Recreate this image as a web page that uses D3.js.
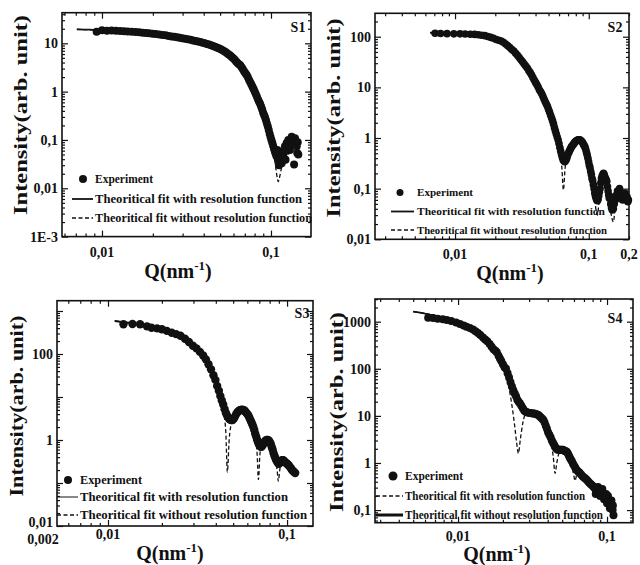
<!DOCTYPE html>
<html>
<head>
<meta charset="utf-8">
<script src="https://cdn.jsdelivr.net/npm/d3@7"></script>
<style>
body { margin: 0; background: #fff; }
svg text { font-family: "Liberation Serif", "Times New Roman", serif; fill: #111; }
</style>
</head>
<body>
<svg id="fig" width="640" height="565"></svg>
<script>
// ---- data: [Q (nm^-1), intensity (arb. unit)] ----

// S1
const s1Exp = [[0.0093,17.4],[0.0100,18.6],[0.0107,18.2],[0.0114,18.4],[0.0121,18.1],[0.0128,17.9],[0.0135,17.8],[0.0142,17.6],
  [0.0150,17.4],[0.0158,17.1],[0.0166,16.9],[0.0174,16.6],[0.0182,16.4],[0.0190,16.1],[0.0199,15.8],[0.0208,15.5],[0.0218,15.2],
  [0.0228,14.9],[0.0238,14.6],[0.0248,14.2],[0.0258,13.9],[0.0268,13.6],[0.0278,13.3],[0.0288,13.0],[0.0298,12.7],[0.0310,12.4],
  [0.0322,12.1],[0.0334,11.8],[0.0346,11.5],[0.0358,11.2],[0.0370,10.9],[0.0382,10.6],[0.0394,10.3],[0.0406,10.0],[0.0418,9.7],
  [0.0430,9.4],[0.0442,9.1],[0.0454,8.8],[0.0466,8.5],[0.0478,8.2],[0.0490,7.9],[0.0502,7.6],[0.0514,7.3],[0.0526,6.9],
  [0.0538,6.6],[0.0550,6.2],[0.0562,5.9],[0.0574,5.6],[0.0586,5.2],[0.0598,4.9],[0.0610,4.55],[0.0622,4.2],[0.0634,3.9],
  [0.0646,3.7],[0.0658,3.5],[0.0670,3.2],[0.0682,2.9],[0.0694,2.6],[0.0706,2.4],[0.0718,2.2],[0.0730,1.98],[0.0742,1.75],
  [0.0754,1.57],[0.0766,1.4],[0.0778,1.25],[0.0790,1.12],[0.0802,0.99],[0.0814,0.88],[0.0826,0.78],[0.0838,0.69],[0.0850,0.62],
  [0.0862,0.56],[0.0874,0.49],[0.0886,0.43],[0.0898,0.37],[0.0910,0.33],[0.0922,0.295],[0.0934,0.255],[0.0946,0.22],[0.0958,0.19],
  [0.0970,0.16],[0.0982,0.135],[0.0994,0.115],[0.1006,0.10],[0.1018,0.088],[0.1030,0.076],[0.1042,0.066],[0.1054,0.058],
  [0.1066,0.052],[0.1078,0.046],[0.1090,0.062],[0.1100,0.040],[0.1105,0.045],[0.1115,0.030],[0.1130,0.058],[0.1140,0.036],
  [0.1157,0.033],[0.1170,0.047],[0.1182,0.054],[0.1195,0.042],[0.1210,0.074],[0.1220,0.039],[0.1238,0.087],[0.1250,0.060],
  [0.1266,0.100],[0.1280,0.070],[0.1295,0.062],[0.1310,0.095],[0.1326,0.117],[0.1340,0.080],[0.1355,0.087],[0.1370,0.031],
  [0.1387,0.108],[0.1400,0.095],[0.1420,0.074],[0.1430,0.054],[0.1440,0.090],[0.1451,0.050]]
const s1FitRes = [[0.0071,19.5],[0.0085,19.2],[0.010,18.6],[0.013,18.0],[0.016,17.0],[0.020,15.9],[0.025,14.3],[0.030,12.7],
  [0.035,11.3],[0.040,10.1],[0.045,9.0],[0.050,7.6],[0.055,6.2],[0.060,4.9],[0.065,3.6],[0.070,2.5],[0.075,1.6],[0.080,1.02],
  [0.085,0.63],[0.090,0.37],[0.095,0.2],[0.100,0.105],[0.105,0.06],[0.110,0.042],[0.115,0.04],[0.120,0.05],[0.125,0.065],
  [0.130,0.078],[0.135,0.085],[0.140,0.082],[0.145,0.075]]
const s1FitNoRes = [[0.0071,19.5],[0.010,18.6],[0.020,15.9],[0.030,12.7],[0.040,10.1],[0.050,7.6],[0.060,4.9],[0.070,2.5],
  [0.080,1.02],[0.090,0.36],[0.100,0.10],[0.104,0.05],[0.107,0.025],[0.109,0.016],[0.1105,0.0137],[0.112,0.016],[0.115,0.025],
  [0.120,0.045],[0.125,0.065],[0.130,0.08],[0.135,0.088],[0.140,0.085],[0.145,0.078]]

// S2
const s2Exp = [[0.00709,117],[0.0078,116],[0.00871,115],[0.0098,114],[0.0109,114],[0.0119,113],[0.0130,112],[0.0140,111],
  [0.0149,109],[0.0158,107],[0.0167,105],[0.0176,101],[0.0185,97],[0.0194,93],[0.0203,88],[0.0212,85],[0.0221,82],[0.0230,78],
  [0.0239,72],[0.0248,66],[0.0257,61],[0.0266,56],[0.0275,52],[0.0284,47],[0.0293,43],[0.0302,39],[0.0311,35],[0.0320,32],
  [0.0329,29],[0.0338,26.5],[0.0347,24],[0.0356,21.5],[0.0365,19.5],[0.0374,17.5],[0.0383,15.5],[0.0392,13.8],[0.0401,12.4],
  [0.0410,11.2],[0.0419,10],[0.0428,8.9],[0.0437,8.2],[0.0446,7.4],[0.0455,6.6],[0.0464,5.8],[0.0473,5.2],[0.0482,4.7],
  [0.0491,4.25],[0.0500,3.7],[0.0509,3.25],[0.0518,2.85],[0.0527,2.5],[0.0536,2.2],[0.0545,1.9],[0.0554,1.6],[0.0563,1.38],
  [0.0572,1.2],[0.0581,1.05],[0.0590,0.92],[0.0599,0.78],[0.0608,0.65],[0.0617,0.55],[0.0626,0.47],[0.0635,0.41],[0.0644,0.37],
  [0.0653,0.35],[0.0662,0.34],[0.0671,0.36],[0.0680,0.38],[0.0689,0.42],[0.0698,0.47],[0.0707,0.51],[0.0716,0.55],[0.0725,0.59],
  [0.0734,0.63],[0.0743,0.67],[0.0752,0.70],[0.0761,0.73],[0.0770,0.76],[0.0780,0.80],[0.0790,0.83],[0.0800,0.86],[0.0810,0.88],
  [0.0820,0.90],[0.0830,0.91],[0.0840,0.92],[0.0850,0.92],[0.0861,0.91],[0.0872,0.89],[0.0883,0.86],[0.0894,0.83],[0.0905,0.79],
  [0.0916,0.74],[0.0927,0.70],[0.0938,0.66],[0.0950,0.59],[0.0962,0.52],[0.0974,0.46],[0.0986,0.40],[0.0998,0.34],[0.1010,0.29],
  [0.1022,0.26],[0.1034,0.22],[0.1046,0.19],[0.1058,0.16],[0.1070,0.145],[0.1083,0.12],[0.1096,0.10],[0.1109,0.082],[0.1122,0.072],
  [0.1135,0.065],[0.1148,0.060],[0.1161,0.058],[0.1174,0.062],[0.1187,0.072],[0.1200,0.085],[0.1215,0.10],[0.1230,0.13],
  [0.1245,0.16],[0.1260,0.18],[0.1275,0.19],[0.1290,0.20],[0.1305,0.19],[0.1320,0.17],[0.1335,0.16],[0.1350,0.15],[0.1364,0.14],
  [0.1380,0.11],[0.1395,0.09],[0.1410,0.075],[0.1425,0.065],[0.1443,0.07],[0.1460,0.05],[0.1480,0.042],[0.1500,0.038],
  [0.1528,0.04],[0.1550,0.05],[0.1580,0.06],[0.1610,0.075],[0.1640,0.09],[0.1670,0.085],[0.1700,0.10],[0.1730,0.07],
  [0.1760,0.08],[0.1790,0.06],[0.1820,0.075],[0.1868,0.081],[0.1900,0.065],[0.1930,0.07],[0.1960,0.055],[0.1980,0.06]]
const s2FitRes = [[0.0065,120],[0.008,118],[0.010,116],[0.013,112],[0.016,106],[0.019,95],[0.022,82],[0.025,66],[0.028,50],
  [0.031,36],[0.034,25],[0.037,18],[0.040,12.5],[0.043,8.6],[0.046,5.9],[0.049,4.3],[0.052,2.7],[0.055,1.75],[0.058,1.07],
  [0.061,0.64],[0.0635,0.42],[0.066,0.33],[0.069,0.42],[0.072,0.56],[0.076,0.73],[0.080,0.86],[0.085,0.92],[0.090,0.82],
  [0.095,0.6],[0.100,0.33],[0.105,0.17],[0.110,0.09],[0.115,0.06],[0.120,0.085],[0.125,0.16],[0.129,0.19],[0.135,0.15],
  [0.140,0.09],[0.145,0.055],[0.152,0.04],[0.160,0.07],[0.170,0.085],[0.180,0.075],[0.190,0.07],[0.198,0.065]]
const s2FitNoRes = [[0.0065,120],[0.010,116],[0.016,106],[0.022,82],[0.028,50],[0.034,25],[0.040,12.5],[0.046,5.9],[0.052,2.7],
  [0.058,1.0],[0.061,0.55],[0.063,0.25],[0.0646,0.094],[0.0665,0.25],[0.069,0.45],[0.072,0.58],[0.076,0.74],[0.080,0.87],
  [0.085,0.93],[0.090,0.82],[0.095,0.6],[0.100,0.32],[0.105,0.15],[0.110,0.07],[0.114,0.035],[0.116,0.03],[0.119,0.05],
  [0.123,0.12],[0.129,0.2],[0.135,0.15],[0.140,0.08],[0.146,0.035],[0.1528,0.022],[0.158,0.045],[0.166,0.08],[0.175,0.085],
  [0.185,0.075],[0.198,0.065]]

// S3
const s3Exp = [[0.0122,490],[0.0137,500],[0.0151,490],[0.0165,440],[0.0175,408],[0.0188,395],[0.0200,375],[0.0213,345],
  [0.0227,313],[0.0240,290],[0.0254,265],[0.0269,227],[0.0283,190],[0.0298,155],[0.0312,135],[0.0326,112],[0.0340,92],
  [0.0352,75],[0.0364,58],[0.0376,44],[0.0388,32],[0.0398,25],[0.0407,18],[0.0416,14],[0.0424,10.6],[0.0432,8.3],[0.0440,6.7],
  [0.0448,5.2],[0.0456,4.2],[0.0464,3.6],[0.0472,3.2],[0.0480,3.0],[0.0488,2.9],[0.0496,2.9],[0.0504,3.1],[0.0512,3.5],
  [0.0520,4.0],[0.0528,4.4],[0.0536,4.7],[0.0544,4.9],[0.0552,5.0],[0.0560,5.05],[0.0568,5.0],[0.0576,4.9],[0.0584,4.6],
  [0.0592,4.3],[0.0600,4.0],[0.0608,3.7],[0.0616,3.3],[0.0624,2.9],[0.0632,2.6],[0.0640,2.3],[0.0648,2.0],[0.0656,1.7],
  [0.0664,1.4],[0.0672,1.2],[0.0680,1.02],[0.0688,0.9],[0.0696,0.8],[0.0704,0.74],[0.0712,0.70],[0.0720,0.70],[0.0728,0.74],
  [0.0736,0.8],[0.0744,0.86],[0.0752,0.92],[0.0760,0.97],[0.0770,1.0],[0.0780,1.0],[0.0790,0.97],[0.0800,0.9],[0.0810,0.82],
  [0.0820,0.7],[0.0830,0.6],[0.0840,0.5],[0.0850,0.43],[0.0860,0.38],[0.0870,0.34],[0.0880,0.31],[0.0890,0.29],[0.0900,0.28],
  [0.0910,0.29],[0.0920,0.31],[0.0930,0.33],[0.0940,0.34],[0.0950,0.34],[0.0960,0.33],[0.0970,0.31],[0.0980,0.30],[0.0990,0.29],
  [0.1000,0.28],[0.1010,0.27],[0.1020,0.26],[0.1035,0.24],[0.1050,0.22],[0.1065,0.20],[0.1080,0.19],[0.1095,0.18],[0.1110,0.17]]
const s3FitRes = [[0.0109,585],[0.0125,540],[0.015,490],[0.018,420],[0.021,350],[0.024,290],[0.027,225],[0.030,150],[0.033,100],
  [0.036,60],[0.039,30],[0.042,11],[0.044,6.5],[0.046,3.8],[0.048,3.0],[0.050,3.0],[0.052,3.9],[0.054,4.7],[0.057,5.0],[0.060,4.1],
  [0.063,2.6],[0.066,1.45],[0.069,0.86],[0.071,0.72],[0.0735,0.8],[0.077,1.0],[0.080,0.88],[0.083,0.56],[0.086,0.38],[0.089,0.3],
  [0.0915,0.29],[0.095,0.33],[0.098,0.3],[0.102,0.26],[0.106,0.2],[0.110,0.175]]
const s3FitNoRes = [[0.0109,590],[0.015,490],[0.021,350],[0.027,225],[0.033,100],[0.039,30],[0.042,11],[0.044,5],[0.0455,1.5],
  [0.0464,0.18],[0.0475,1.0],[0.049,2.5],[0.052,3.9],[0.054,4.7],[0.057,5.0],[0.060,4.1],[0.063,2.6],[0.066,1.2],[0.068,0.5],
  [0.0692,0.12],[0.0705,0.45],[0.072,0.75],[0.075,0.9],[0.077,1.0],[0.080,0.88],[0.083,0.56],[0.086,0.32],[0.088,0.2],
  [0.0894,0.11],[0.091,0.2],[0.093,0.3],[0.095,0.33],[0.098,0.3],[0.102,0.26],[0.106,0.2],[0.110,0.175]]

// S4
const s4Exp = [[0.0063,1210],[0.0068,1190],[0.0073,1158],[0.0079,1120],[0.0084,1087],[0.0090,1030],[0.0097,960],[0.0103,890],
  [0.0109,830],[0.0114,783],[0.0120,730],[0.0126,680],[0.0131,630],[0.0136,575],[0.0141,520],[0.0147,460],[0.0152,420],
  [0.0157,385],[0.0163,335],[0.0168,295],[0.0173,260],[0.0178,240],[0.0182,225],[0.0187,190],[0.0191,165],[0.0195,147],
  [0.0200,125],[0.0205,108],[0.0210,100],[0.0215,80],[0.0220,65],[0.0225,52],[0.0230,42],[0.0235,35],[0.0240,30],[0.0245,26],
  [0.0250,22],[0.0255,20],[0.0260,18.5],[0.0266,16.5],[0.0272,14.5],[0.0278,13],[0.0284,12.3],[0.0290,12],[0.0297,11.7],
  [0.0304,11.5],[0.0311,11.4],[0.0318,11.3],[0.0325,11.2],[0.0332,11.0],[0.0339,10.7],[0.0346,10.4],[0.0353,9.8],[0.0360,9.2],
  [0.0367,8.7],[0.0374,8.2],[0.0381,7.2],[0.0388,6.2],[0.0395,5.3],[0.0402,4.5],[0.0410,4.0],[0.0418,3.5],[0.0426,3.0],
  [0.0434,2.7],[0.0442,2.4],[0.0450,2.15],[0.0458,2.0],[0.0466,1.9],[0.0474,1.9],[0.0482,1.9],[0.0490,1.9],[0.0498,1.9],
  [0.0506,1.9],[0.0514,1.85],[0.0522,1.8],[0.0530,1.78],[0.0538,1.72],[0.0546,1.6],[0.0554,1.45],[0.0562,1.3],[0.0570,1.2],
  [0.0580,1.1],[0.0590,0.98],[0.0600,0.88],[0.0612,0.8],[0.0626,0.71],[0.0640,0.66],[0.0655,0.62],[0.0670,0.57],[0.0685,0.52],
  [0.0700,0.49],[0.0715,0.47],[0.0730,0.44],[0.0745,0.41],[0.0760,0.38],[0.0775,0.36],[0.0790,0.34],[0.0805,0.32],[0.0820,0.30],
  [0.0835,0.28],[0.0840,0.22],[0.0850,0.27],[0.0865,0.26],[0.0870,0.31],[0.0880,0.25],[0.0895,0.25],[0.0900,0.20],[0.0910,0.24],
  [0.0925,0.24],[0.0930,0.28],[0.0945,0.23],[0.0955,0.17],[0.0960,0.21],[0.0975,0.19],[0.0985,0.22],[0.0990,0.18],[0.1000,0.14],
  [0.1005,0.17],[0.1015,0.20],[0.1020,0.166],[0.1035,0.15],[0.1045,0.11],[0.1050,0.14],[0.1065,0.135],[0.1070,0.16],
  [0.1080,0.13],[0.1090,0.10],[0.1095,0.125],[0.1105,0.078]]
const s4FitRes = [[0.0050,1630],[0.006,1480],[0.0075,1250],[0.009,1030],[0.011,810],[0.013,630],[0.015,440],[0.017,285],
  [0.019,170],[0.021,95],[0.023,45],[0.025,21],[0.027,14],[0.029,12],[0.032,11.3],[0.035,10],[0.038,7.5],[0.040,5],[0.042,3.3],
  [0.044,2.5],[0.047,1.95],[0.051,1.9],[0.054,1.7],[0.057,1.22],[0.060,0.88],[0.065,0.63],[0.070,0.5],[0.075,0.41],[0.080,0.33],
  [0.085,0.28],[0.090,0.25],[0.095,0.22],[0.100,0.18],[0.105,0.145],[0.110,0.13]]
const s4FitNoRes = [[0.0050,1630],[0.006,1500],[0.0075,1280],[0.009,1050],[0.011,800],[0.013,600],[0.015,420],[0.017,280],
  [0.019,170],[0.0201,111],[0.0215,55],[0.0228,20],[0.024,6.1],[0.0247,2.8],[0.0254,1.6],[0.0262,3.2],[0.0272,7],[0.028,10],
  [0.0295,11.5],[0.031,11.3],[0.033,11],[0.035,10],[0.037,8.4],[0.039,6],[0.0405,4.2],[0.042,2.8],[0.0435,1.4],[0.0448,0.6],
  [0.046,1.0],[0.0475,1.6],[0.049,1.9],[0.051,1.9],[0.053,1.8],[0.055,1.5],[0.057,1.05],[0.0595,0.6],[0.061,0.42],[0.0625,0.55],
  [0.065,0.63],[0.070,0.5],[0.075,0.41],[0.080,0.33],[0.085,0.28],[0.090,0.25],[0.095,0.22],[0.100,0.18],[0.105,0.145],[0.110,0.13]]

// tick labels
const s1XTicks = [0.01, 0.1], s1XLabels = ["0,01", "0,1"]
const s1YTicks = [10, 1, 0.1, 0.01, 0.001], s1YLabels = ["10", "1", "0,1", "0,01", "1E-3"]
const s2XTicks = [0.01, 0.1, 0.2], s2XLabels = ["0,01", "0,1", "0,2"]
const s2YTicks = [100, 10, 1, 0.1, 0.01], s2YLabels = ["100", "10", "1", "0,1", "0,01"]
const s3XTicks = [0.01, 0.1], s3XLabels = ["0,01", "0,1"], s3XStartLabel = "0,002"
const s3YTicks = [100, 1, 0.01], s3YLabels = ["100", "1", "0,01"]
const s4XTicks = [0.01, 0.1], s4XLabels = ["0,01", "0,1"]
const s4YTicks = [1000, 100, 10, 1, 0.1], s4YLabels = ["1000", "100", "10", "1", "0,1"]

const legendTexts = ["Experiment", "Theoritical fit with resolution function", "Theoritical fit without resolution function"]

// ---- layout ----
const panels = [
  { name: "S1", exp: s1Exp, fitRes: s1FitRes, fitNoRes: s1FitNoRes,
    xTicks: s1XTicks, xLabels: s1XLabels, yTicks: s1YTicks, yLabels: s1YLabels,
    xDomain: [0.0058, 0.1725], yDomain: [0.001, 43], left: 62, right: 311, top: 12.7, bottom: 236.6,
    r: 4, nameAt: [298, 32], xTitleAt: [178, 278], yTitleAt: [20, 115], yTitleLen: 200, xLabelY: 257,
    leg: { mx: 83, my: 179, mr: 4, lx: [72, 93], tx: 95, base: [183, 203, 222], ly: [199, 218], w: [58, 207, 217], fs: 12.5,
           styles: ["solid", "dash"] } },
  { name: "S2", exp: s2Exp, fitRes: s2FitRes, fitNoRes: s2FitNoRes,
    xTicks: s2XTicks, xLabels: s2XLabels, yTicks: s2YTicks, yLabels: s2YLabels,
    xDomain: [0.00252, 0.2], yDomain: [0.01, 290], left: 375, right: 629, top: 13.3, bottom: 239.3,
    r: 3.8, nameAt: [615, 32], xTitleAt: [510, 280], yTitleAt: [333, 118], yTitleLen: 199, xLabelY: 259,
    leg: { mx: 400, my: 192.5, mr: 3.5, lx: [391, 414], tx: 417, base: [196, 215, 233.5], ly: [211.5, 230], w: [56, 188, 190], fs: 10.5,
           styles: ["solid", "dash"] } },
  { name: "S3", exp: s3Exp, fitRes: s3FitRes, fitNoRes: s3FitNoRes,
    xTicks: s3XTicks, xLabels: s3XLabels, startLabel: s3XStartLabel, yTicks: s3YTicks, yLabels: s3YLabels,
    xDomain: [0.00519, 0.1396], yDomain: [0.01, 1736], left: 57, right: 313, top: 300.7, bottom: 526,
    r: 4.2, nameAt: [302, 318], xTitleAt: [170, 560], yTitleAt: [16, 406], yTitleLen: 181, xLabelY: 539,
    leg: { mx: 68, my: 480, mr: 4, lx: [57, 78], tx: 80, base: [484, 501, 519], ly: [497, 515], w: [62, 208, 227], fs: 12.5,
           styles: ["thin", "dash"] } },
  { name: "S4", exp: s4Exp, fitRes: s4FitRes, fitNoRes: s4FitNoRes,
    xTicks: s4XTicks, xLabels: s4XLabels, yTicks: s4YTicks, yLabels: s4YLabels,
    xDomain: [0.00277, 0.1494], yDomain: [0.054, 3030], left: 375, right: 633, top: 299, bottom: 522.7,
    r: 4, nameAt: [615, 323], xTitleAt: [497, 561], yTitleAt: [336, 412], yTitleLen: 200, xLabelY: 541,
    leg: { mx: 393, my: 476, mr: 4.5, lx: [376, 403], tx: 405, base: [480, 500, 519], ly: [496, 515], w: [58, 180, 198], fs: 11.5,
           styles: ["dash", "thick"] } }
]

const svg = d3.select("#fig")
const ink = "#111"
const isPow10 = v => Math.abs(Math.log10(v) - Math.round(Math.log10(v))) < 1e-9

function lineStyle(sel, kind) {
  sel.attr("fill", "none").attr("stroke", ink)
  if (kind === "dash") sel.attr("stroke-width", 1.3).attr("stroke-dasharray", "4,2.5")
  else if (kind === "thin") sel.attr("stroke-width", 1)
  else if (kind === "thick") sel.attr("stroke-width", 3)
  else sel.attr("stroke-width", 1.8)
  return sel
}

function drawPanel(p) {
  const x = d3.scaleLog().domain(p.xDomain).range([p.left, p.right])
  const y = d3.scaleLog().domain(p.yDomain).range([p.bottom, p.top])
  const g = svg.append("g")

  // inward ticks on all four sides
  const xMajor = x.ticks().filter(isPow10), xMinor = x.ticks().filter(v => !isPow10(v))
  const yMajor = y.ticks().filter(isPow10), yMinor = y.ticks().filter(v => !isPow10(v))
  const sides = [
    [d3.axisBottom, x, xMajor, xMinor, `translate(0,${p.bottom})`],
    [d3.axisTop, x, xMajor, xMinor, `translate(0,${p.top})`],
    [d3.axisLeft, y, yMajor, yMinor, `translate(${p.left},0)`],
    [d3.axisRight, y, yMajor, yMinor, `translate(${p.right},0)`]
  ]
  sides.forEach(([axis, s, major, minor, tr]) => {
    [[major, -6], [minor, -3]].forEach(([vals, size]) => {
      g.append("g").attr("transform", tr)
        .call(axis(s).tickValues(vals).tickSize(size).tickFormat(""))
        .call(a => a.select(".domain").remove())
        .selectAll("line").attr("stroke", ink).attr("stroke-width", 1.2)
    })
  })

  g.append("rect")
    .attr("x", p.left).attr("y", p.top)
    .attr("width", p.right - p.left).attr("height", p.bottom - p.top)
    .attr("fill", "none").attr("stroke", ink).attr("stroke-width", 1.6)

  // tick labels
  g.selectAll(null).data(p.xTicks).join("text")
    .attr("x", d => x(d)).attr("y", p.xLabelY)
    .attr("text-anchor", "middle").attr("font-size", 14).attr("font-weight", "bold")
    .text((d, i) => p.xLabels[i])
  if (p.startLabel) {
    g.append("text").attr("x", x.range()[0] - 14).attr("y", p.xLabelY + 5)
      .attr("text-anchor", "middle").attr("font-size", 14).attr("font-weight", "bold").text(p.startLabel)
  }
  g.selectAll(null).data(p.yTicks).join("text")
    .attr("x", p.left - 4).attr("y", d => y(d))
    .attr("dy", (d, i) => p.startLabel && i === p.yTicks.length - 1 ? "0.05em" : "0.35em")
    .attr("text-anchor", "end").attr("font-size", 14).attr("font-weight", "bold")
    .text((d, i) => p.yLabels[i])

  // fits and data
  const line = d3.line().x(d => x(d[0])).y(d => y(d[1])).curve(d3.curveMonotoneX)
  lineStyle(g.append("path").datum(p.fitNoRes).attr("d", line), "dash")
  lineStyle(g.append("path").datum(p.fitRes).attr("d", line), "solid")
  g.selectAll(null).data(p.exp).join("circle")
    .attr("cx", d => x(d[0])).attr("cy", d => y(d[1])).attr("r", p.r)
    .attr("fill", ink)

  // panel name
  g.append("text").attr("x", p.nameAt[0]).attr("y", p.nameAt[1])
    .attr("text-anchor", "middle").attr("font-size", 14).attr("font-weight", "bold").text(p.name)

  // legend
  const L = p.leg
  g.append("circle").attr("cx", L.mx).attr("cy", L.my).attr("r", L.mr).attr("fill", ink)
  L.ly.forEach((ly, i) => {
    lineStyle(g.append("line").attr("x1", L.lx[0]).attr("x2", L.lx[1]).attr("y1", ly).attr("y2", ly), L.styles[i])
  })
  legendTexts.forEach((t, i) => {
    g.append("text").attr("x", L.tx).attr("y", L.base[i]).attr("font-size", L.fs).attr("font-weight", "bold")
      .attr("textLength", L.w[i]).attr("lengthAdjust", "spacingAndGlyphs").text(t)
  })

  // axis titles
  const xt = g.append("text").attr("x", p.xTitleAt[0]).attr("y", p.xTitleAt[1])
    .attr("text-anchor", "middle").attr("font-size", 20).attr("font-weight", "bold")
  xt.append("tspan").text("Q(nm")
  xt.append("tspan").attr("dy", -8).attr("font-size", 13).text("-1")
  xt.append("tspan").attr("dy", 8).text(")")

  g.append("text")
    .attr("transform", `translate(${p.yTitleAt[0]},${p.yTitleAt[1]}) rotate(-90)`)
    .attr("text-anchor", "middle").attr("dy", "0.35em")
    .attr("font-size", 19).attr("font-weight", "bold")
    .attr("textLength", p.yTitleLen).attr("lengthAdjust", "spacingAndGlyphs")
    .text("Intensity(arb. unit)")
}

panels.forEach(drawPanel)
</script>
</body>
</html>
